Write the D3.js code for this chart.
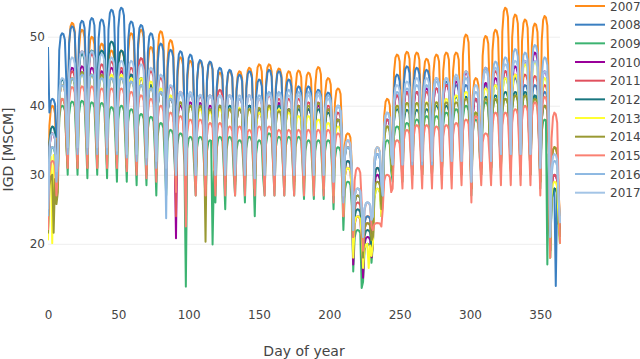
<!DOCTYPE html>
<html>
<head>
<meta charset="utf-8">
<script src="https://cdn.jsdelivr.net/npm/d3@7"></script>
<style>
  body { margin: 0; background: #fff; }
  svg { display: block; font-family: "DejaVu Sans", Verdana, sans-serif; }
</style>
</head>
<body>
<div id="chart"></div>
<script>
// one line per year, days are aligned so that day 0, 7, 14 ... is a Sunday
const years = ['2007', '2008', '2009', '2010', '2011', '2012', '2013', '2014', '2015', '2016', '2017'];
const colors = ['#ff8c1a', '#3a7fc1', '#3cb371', '#990099', '#e0505e', '#18767f',
                '#ffff33', '#999933', '#fa8072', '#8db8e2', '#a3c4e6'];
const nDays = 365;
const xTicks = [0, 50, 100, 150, 200, 250, 300, 350];
const yTicks = [20, 30, 40, 50];

// weekday profile Sun..Sat, 0 = weekly low, 1 = weekly high
const weekShape = [0, 0.82, 0.97, 1, 0.99, 0.93, 0.5];

// weekly highs (53 weeks)
const peaks = {
  '2007': [40, 43, 52, 51, 50, 49, 48, 48, 50.5, 51, 48.5, 50.8, 49.5,
           47, 46.5, 46.4, 46.3, 44.8, 45, 45, 45.5, 46, 46, 45.4, 45, 45.1, 44.8, 45.6, 44, 42.5,
           36, 28, 24, 34,
           41, 47.4, 47.8, 47.7, 46.8, 47.4, 47.7, 47.7, 50.3, 44, 50.1, 51, 54.2, 53.2, 52.5, 51.9, 53, 34, 30],
  '2008': [41, 50.5, 51.5, 52.3, 52.7, 52.5, 53.9, 54.2, 52.2, 51.7, 50.5, 49, 48.1,
           47.9, 47.4, 46.6, 46.4, 45.5, 45.2, 44.5, 45, 43.8, 45.2, 45, 43.8, 42.8, 42.8, 42.3, 41.9, 40,
           34, 27, 24, 33,
           38, 44.5, 45.7, 45.5, 45.2, 44, 43.5, 43, 43, 41, 43, 43, 44, 44, 43, 43, 42, 28, 26],
  '2009': [34, 40, 40.6, 40.7, 40.5, 40.4, 39.8, 40, 39.5, 38.8, 38.4, 37.5, 36.5,
           36, 35.5, 35.5, 35, 35.5, 35.5, 35, 35.5, 35, 36, 35.5, 35.5, 35.5, 35, 35, 35, 34,
           29, 22, 20, 28,
           35, 37, 37.5, 38, 38.5, 38.5, 39, 39.5, 40, 38, 40.5, 40.9, 41, 41.5, 41.5, 41.2, 38, 28, 22],
  '2010': [36, 43, 45.5, 45.7, 45.5, 45, 45.5, 45, 44.5, 44, 43, 42, 41,
           40, 40.5, 40.4, 40, 40, 39.5, 39.5, 40, 39, 40, 40.4, 39.5, 40, 39.5, 40, 39.5, 38,
           31, 24, 21, 30,
           38, 41.5, 42, 42, 42.5, 42.5, 43, 43.5, 44.8, 41, 43.3, 44, 45, 45.7, 46.5, 47.7, 45, 30, 24],
  '2011': [36, 43, 45, 47.9, 47.5, 46, 46.4, 45.5, 45.5, 46.9, 45, 44, 42.8,
           42, 41.5, 41.3, 41.5, 42.3, 41.5, 41, 41.5, 41, 41.5, 41, 41, 41, 40.5, 40.5, 40, 39,
           32, 26, 23, 31,
           38, 41.5, 41.9, 42, 42, 42.5, 43, 44, 45, 41, 45.5, 45, 45, 44.5, 44.5, 44.3, 43, 30, 25],
  '2012': [37, 43.8, 44, 47.5, 48, 48, 49.3, 48, 44.5, 44, 43, 42, 41,
           40.5, 40, 40, 39.5, 40, 40, 39.5, 40, 39.5, 40, 40, 39.5, 39.5, 39.5, 39.5, 39, 38,
           32, 25, 22, 31,
           37, 39.5, 39.4, 39.4, 39.5, 40, 40, 41.3, 41.3, 39, 41.3, 41.5, 42, 42, 42, 41.5, 40, 28, 24],
  '2013': [33, 43, 44, 44.5, 44.5, 44, 44.5, 44.5, 44, 44, 43.5, 42.5, 41.5,
           40.5, 40, 39.5, 39.1, 39.5, 39.5, 39.7, 39.5, 39, 39.7, 39.5, 39, 38.5, 38.5, 38, 37.5, 37,
           31, 24, 20, 28,
           37, 40, 40.4, 40.4, 40.5, 40.5, 41, 41.5, 42, 39, 42.5, 43, 44, 44.5, 46, 46.4, 44, 29, 23],
  '2014': [30, 41, 44, 44.9, 44.5, 44.5, 44, 44, 43.5, 43, 42.5, 42, 41,
           40.5, 40, 40, 39.5, 40, 39.5, 39.5, 39.5, 39.7, 40, 39.2, 39.5, 40, 40, 40.4, 39.5, 38,
           34, 27, 23, 29,
           37, 40, 40.4, 40.4, 40.4, 40.5, 40.5, 40.5, 41, 39, 41, 41, 41, 41.5, 41.5, 41, 40, 34, 24],
  '2015': [32, 41, 42.7, 42.8, 42.8, 42.5, 42.5, 42.5, 42, 41.5, 41, 40, 39,
           38.5, 38, 38, 37.5, 37.5, 37, 37, 36.5, 37, 37, 36.5, 36.5, 36.5, 36.5, 36.5, 36.5, 36, 35,
           31, 26, 23, 30,
           35, 36.5, 37.2, 37.2, 37, 37.2, 37.5, 38, 38.5, 36, 39, 39, 39.5, 40, 40.5, 41.3, 39, 28, 23],
  '2016': [34, 43, 44, 44.5, 44.5, 44, 44, 44, 43.5, 43, 42.5, 42, 41,
           41.6, 41.5, 41.5, 41.5, 41.5, 41.5, 41, 41.5, 41.5, 42, 42, 42.3, 42, 42, 42, 41.5, 40,
           34, 28, 26, 33,
           39, 42, 42.5, 43, 43, 43.5, 44, 44, 44, 42, 45.5, 46.4, 47, 48.2, 47.7, 48.8, 47, 32, 26],
  '2017': [36, 44, 47, 47.9, 47.9, 47.5, 47, 46.5, 46.5, 46, 45.5, 44.5, 43,
           42, 42, 41.6, 41.5, 41.5, 41.5, 41.5, 41.5, 41, 41.6, 41.6, 41.5, 41.5, 41.5, 41.5, 41, 40,
           35, 28, 26, 34,
           39, 43, 43.5, 44, 44, 44, 44, 44.5, 45, 43, 45, 45.5, 46, 46.5, 46.5, 46.5, 45, 33, 27]
};

// weekly lows (Sundays), 53 weeks
const troughs = {
  '2007': [24, 33, 35, 35, 34, 34, 34, 34, 35, 35, 34, 34, 33,
           31, 31, 31, 30, 30, 31, 31, 31, 31, 31, 31, 31, 31, 31, 31, 31, 31,
           27, 22, 19, 23,
           27, 33, 33, 33, 33, 33, 33, 33, 34, 30, 34, 34, 35, 35, 35, 34, 33, 21, 24],
  '2008': [30, 37, 38, 37.5, 37.5, 37, 38, 38, 37, 36, 35, 34, 33,
           32, 31, 31, 31, 30, 31, 31, 31, 30, 31, 31, 30, 30, 30, 30, 30, 29,
           26, 21, 18, 23,
           27, 31, 32, 32, 32, 31, 31, 31, 31, 29, 31, 31, 32, 32, 31, 31, 30, 18, 22],
  '2009': [22, 30, 30, 30, 29.5, 30, 29.5, 29, 29, 28.5, 28.5, 27, 27,
           27, 26, 27, 26, 26, 25, 27, 26, 24, 27, 27, 27, 27, 26.5, 26.5, 26.5, 25,
           22, 16, 14.5, 20,
           26, 29, 29, 30, 30, 30, 30, 30, 30, 27, 30, 30, 31, 31, 30, 30, 28, 18, 20],
  '2010': [24, 32, 33, 33, 33, 32.5, 33, 32.5, 32, 32, 31.5, 31, 30,
           28, 29, 29, 29, 28.5, 29, 29, 29, 28.5, 29, 29, 29, 29, 29, 29, 29, 28,
           24, 17, 15.1, 20,
           27, 31, 31, 31, 31, 31, 31, 31, 32, 28, 31, 31, 32, 32, 32, 32, 30, 19, 21],
  '2011': [25, 32, 33, 34, 34, 33, 33, 33, 33, 33, 32, 32, 31,
           30, 30, 29.5, 29.5, 30, 30, 30, 30, 29.5, 30, 30, 30, 30, 29.5, 29.5, 29.5, 28,
           25, 20, 18, 22,
           27, 31, 31, 31, 31, 31, 31.5, 32, 32, 28, 32, 32, 32, 32, 32, 32, 30, 19, 22],
  '2012': [24, 32, 33, 35, 36, 37, 37.7, 36, 33, 32, 31.5, 31, 30,
           29, 29, 29, 29, 29, 29, 29, 29, 28.5, 29, 29, 29, 29, 29, 29, 29, 28,
           25, 19, 17, 22,
           27, 30, 30, 30, 30, 30, 30, 31, 31, 28, 31, 31, 31, 31, 31, 31, 29, 19, 21],
  '2013': [20.5, 31, 32, 32, 32, 32, 32, 32, 31.5, 31.5, 31, 30.5, 30,
           29, 28.5, 28.5, 28.5, 28.5, 28.5, 28.5, 28.5, 28, 28.5, 28.5, 28.5, 28, 28, 28, 28, 27,
           24, 18, 16.5, 20,
           26, 30, 30, 30, 30, 30, 30, 30, 31, 28, 31, 31, 31, 31, 31, 31, 29, 18, 20],
  '2014': [21.5, 27.5, 31, 31, 31, 31, 31, 31, 31, 30.5, 30, 30, 29.5,
           29, 28.5, 28.5, 28, 28.5, 28.5, 28.5, 28.5, 28, 28.5, 28.5, 28.5, 28.5, 28.5, 28.5, 28.5, 28,
           27, 21, 18, 21,
           26, 30, 30, 30, 30, 30, 30, 30, 30, 28, 30, 30, 30.5, 30.5, 30, 30, 29, 20, 21],
  '2015': [22, 30, 31, 31, 31, 31, 31, 31, 30.5, 30, 29.5, 29, 28,
           27.5, 27, 27, 27, 27, 27, 27, 27, 27, 27, 27, 27, 27, 27, 27, 27, 26,
           24, 21, 19, 22,
           25, 28, 28, 28, 28, 28, 28, 28, 28.5, 26, 28.5, 28.5, 28.5, 28.5, 28.5, 28.5, 27, 18, 20],
  '2016': [24, 32, 33, 33, 33, 33, 33, 33, 32.5, 32, 31.5, 31, 30,
           30, 30, 30, 30, 30, 30, 30, 30, 29.5, 30, 30, 30, 30, 30, 30, 30, 29,
           26, 22, 21, 24,
           27, 31.5, 31.5, 31.5, 31.5, 31.5, 32, 32, 32, 29, 32, 32, 33, 33, 33, 33, 31, 21, 23],
  '2017': [25, 33, 34, 34, 34, 34, 34, 33.5, 33, 33, 32.5, 32, 31,
           30, 30, 30, 30, 30, 30, 30, 30, 29.5, 30, 30, 30, 30, 30, 30, 30, 29,
           27, 22, 21, 24,
           27, 31.5, 31.5, 32, 32, 32, 32, 32, 32, 29, 32, 32, 33, 33, 33, 33, 31, 21, 23]
};

// single days that stand out (holidays): [year, day, value]
const holidays = [
  ['2008', 0, 48.5], ['2013', 3, 20.1], ['2014', 4, 21.6],
  ['2016', 84, 23.7], ['2010', 91, 20.8], ['2011', 91, 24], ['2009', 98, 13.8], ['2015', 98, 22.5],
  ['2014', 112, 20.3], ['2009', 117, 19.9],
  ['2009', 223, 13.6], ['2010', 224, 15.1], ['2013', 228, 16.5],
  ['2009', 355, 17], ['2008', 361, 13.9]
];

const width = 640;
const height = 359;
const margin = { left: 48, right: 80, top: 7, bottom: 71 };

const x = d3.scaleLinear().domain([0, 364]).range([margin.left, width - margin.right]);
const y = d3.scaleLinear().domain([13.6, 54.3]).range([height - margin.bottom, margin.top]);

// build the daily series
const series = years.map((yr, i) => {
  const values = d3.range(nDays).map(d => {
    const w = Math.min(52, Math.floor(d / 7));
    const lo = troughs[yr][w];
    const hi = peaks[yr][w];
    return lo + (hi - lo) * weekShape[d % 7];
  });
  holidays.filter(h => h[0] === yr).forEach(h => { values[h[1]] = h[2]; });
  return { year: yr, color: colors[i], values: values };
});

const svg = d3.select('#chart')
  .append('svg')
  .attr('width', width)
  .attr('height', height);

// grid
svg.append('g')
  .attr('transform', `translate(${margin.left},0)`)
  .call(d3.axisLeft(y).tickValues(yTicks).tickSize(-(width - margin.left - margin.right)).tickFormat(''))
  .call(g => g.select('.domain').remove())
  .call(g => g.selectAll('line').attr('stroke', '#eee').attr('stroke-width', 1));

// y tick labels
svg.append('g')
  .attr('transform', `translate(${margin.left},0)`)
  .call(d3.axisLeft(y).tickValues(yTicks).tickSize(0).tickPadding(3))
  .call(g => g.select('.domain').remove())
  .call(g => g.selectAll('text').attr('fill', '#444').style('font-size', '12px')
    .style('font-family', '"DejaVu Sans", Verdana, sans-serif'));

// x tick labels
svg.append('g')
  .attr('transform', `translate(0,${height - margin.bottom})`)
  .call(d3.axisBottom(x).tickValues(xTicks).tickSize(0).tickPadding(22))
  .call(g => g.select('.domain').remove())
  .call(g => g.selectAll('text').attr('fill', '#444').style('font-size', '12px')
    .style('font-family', '"DejaVu Sans", Verdana, sans-serif'));

svg.append('clipPath').attr('id', 'plot-clip')
  .append('rect')
  .attr('x', margin.left).attr('y', 0)
  .attr('width', width - margin.left - margin.right + 1)
  .attr('height', height - margin.bottom + 3);

const line = d3.line()
  .x((d, i) => x(i))
  .y(d => y(d));

svg.append('g')
  .attr('clip-path', 'url(#plot-clip)')
  .selectAll('path')
  .data(series)
  .enter().append('path')
  .attr('d', d => line(d.values))
  .attr('fill', 'none')
  .attr('stroke', d => d.color)
  .attr('stroke-width', 2)
  .attr('stroke-linejoin', 'round');

// legend
const legend = svg.append('g')
  .selectAll('g')
  .data(series)
  .enter().append('g')
  .attr('transform', (d, i) => `translate(575,${6 + i * 18.67})`);

legend.append('line')
  .attr('x1', 0).attr('x2', 30)
  .attr('stroke', d => d.color)
  .attr('stroke-width', 2);

legend.append('text')
  .attr('x', 35)
  .attr('y', 4.5)
  .attr('fill', '#444')
  .style('font-size', '12px')
  .text(d => d.year);

// axis titles
svg.append('text')
  .attr('x', (margin.left + width - margin.right) / 2)
  .attr('y', 356)
  .attr('text-anchor', 'middle')
  .attr('fill', '#444')
  .style('font-size', '14px')
  .text('Day of year');

svg.append('text')
  .attr('transform', 'translate(12.5,149.5) rotate(-90)')
  .attr('text-anchor', 'middle')
  .attr('fill', '#444')
  .style('font-size', '14px')
  .text('IGD [MSCM]');
</script>
</body>
</html>
